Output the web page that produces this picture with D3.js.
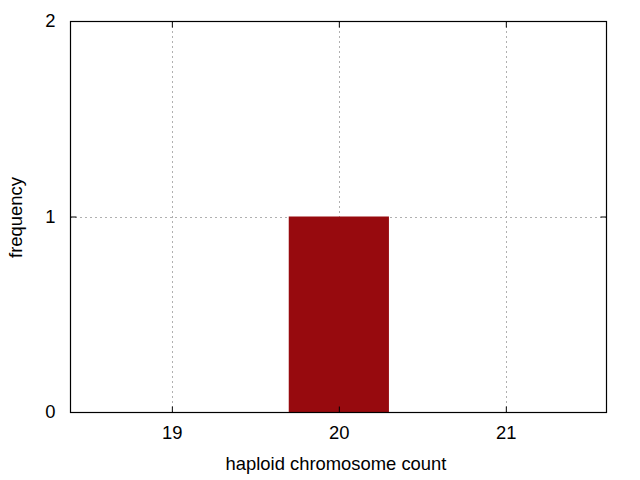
<!DOCTYPE html>
<html><head><meta charset="utf-8">
<script src="https://cdn.jsdelivr.net/npm/d3@7"></script>
<style>body{margin:0;background:#fff}svg{display:block}text{font-family:"Liberation Sans",Arial,sans-serif}</style>
</head><body>
<svg id="c" width="640" height="480"></svg>
<script>
const categories = [20];
const counts = [1];
const xTicks = [19, 20, 21];
const yTicks = [0, 1, 2];
const barWidth = 0.6;

const svg = d3.select("#c");
const L = 70, R = 606, T = 21, B = 412;
const x = d3.scaleLinear().domain([18.39, 21.6]).range([L, R]);
const y = d3.scaleLinear().domain([0, 2]).range([B, T]);

// grid
const grid = svg.append("g").attr("stroke", "#b0b0b0").attr("stroke-width", 1).attr("stroke-dasharray", "2,3");
grid.selectAll("line.v").data(xTicks).join("line")
  .attr("x1", d => Math.round(x(d)) + 0.5).attr("x2", d => Math.round(x(d)) + 0.5)
  .attr("y1", T).attr("y2", B);
grid.selectAll("line.h").data(yTicks.filter(d => d > 0 && d < 2)).join("line")
  .attr("y1", d => Math.round(y(d)) + 0.5).attr("y2", d => Math.round(y(d)) + 0.5)
  .attr("x1", L).attr("x2", R);

// bars
svg.selectAll("rect.bar").data(categories).join("rect")
  .attr("fill", "#970a0e")
  .attr("x", d => x(d - barWidth / 2))
  .attr("width", d => x(d + barWidth / 2) - x(d - barWidth / 2))
  .attr("y", (d, i) => y(counts[i]))
  .attr("height", (d, i) => y(0) - y(counts[i]));

// axes (ticks inward)
const xb = svg.append("g").attr("transform", `translate(0,${B + 0.5})`)
  .call(d3.axisBottom(x).tickValues(xTicks).tickSize(-6).tickPadding(13).tickFormat(d3.format("d")));
const xt = svg.append("g").attr("transform", `translate(0,${T + 0.5})`)
  .call(d3.axisTop(x).tickValues(xTicks).tickSize(-6).tickFormat(""));
const yl = svg.append("g").attr("transform", `translate(${L + 0.5},0)`)
  .call(d3.axisLeft(y).tickValues(yTicks).tickSize(-6).tickPadding(15).tickFormat(d3.format("d")));
const yr = svg.append("g").attr("transform", `translate(${R + 0.5},0)`)
  .call(d3.axisRight(y).tickValues(yTicks).tickSize(-6).tickFormat(""));
[xb, xt, yl, yr].forEach(g => {
  g.select(".domain").remove();
  g.selectAll("line").attr("stroke", "#000");
  g.selectAll("text").attr("font-size", 18.4).attr("fill", "#000").style("font-family", "'Liberation Sans',Arial,sans-serif");
});
svg.append("rect").attr("x", L + 0.5).attr("y", T + 0.5).attr("width", R - L).attr("height", B - T)
  .attr("fill", "none").attr("stroke", "#000").attr("stroke-width", 1.2);

svg.append("text").attr("x", (L + R) / 2 - 2).attr("y", 470).attr("text-anchor", "middle")
  .attr("font-size", 18.4).text("haploid chromosome count");
svg.append("text").attr("transform", `translate(22,${(T + B) / 2 + 1}) rotate(-90)`).attr("text-anchor", "middle")
  .attr("font-size", 18.4).text("frequency");
</script>
</body></html>
